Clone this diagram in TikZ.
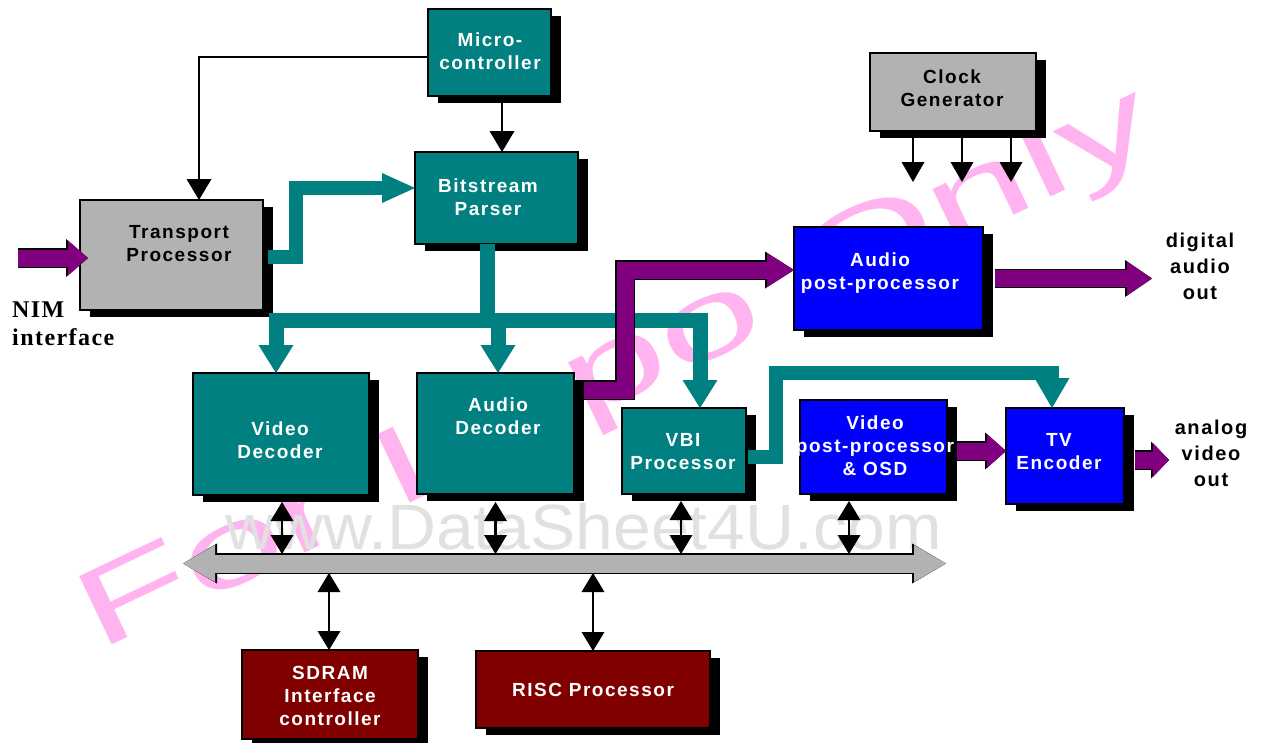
\documentclass[tikz,border=0pt]{standalone}
\usepackage{fontspec}
\setmainfont{Liberation Sans}
\newfontfamily\bxf[LetterSpace=8]{Liberation Sans}
\newfontfamily\nimf[LetterSpace=6]{Liberation Serif}
\usetikzlibrary{arrows.meta,calc}
\definecolor{tealc}{RGB}{0,128,128}
\definecolor{bluec}{RGB}{0,0,255}
\definecolor{grayc}{RGB}{178,178,178}
\definecolor{maroonc}{RGB}{128,0,0}
\definecolor{purplec}{RGB}{128,0,128}
\definecolor{wmpink}{RGB}{255,180,240}
\definecolor{wmgray}{RGB}{225,225,225}
\tikzset{
  box/.style={draw=black, line width=1.2pt, inner sep=0pt, outer sep=0pt},
  wlbl/.style={text=white, font={\bxf\bfseries\fontsize{19}{23}\selectfont}, align=center, inner sep=0pt},
  blbl/.style={wlbl, text=black},
  olbl/.style={text=black, font={\bxf\bfseries\fontsize{20}{26}\selectfont}, align=center, inner sep=0pt},
  nimlbl/.style={text=black, font={\nimf\bfseries\fontsize{24}{28}\selectfont}, align=left, inner sep=0pt},
  thinarr/.style={line width=2.6pt, draw=black, -{Triangle[length=21pt,width=25pt,line width=0pt]}},
  clkarr/.style={line width=2.6pt, draw=black, -{Triangle[length=20pt,width=23pt,line width=0pt]}},
  dblarr/.style={line width=2.6pt, draw=black, {Triangle[length=19pt,width=23pt,line width=0pt]}-{Triangle[length=19pt,width=23pt,line width=0pt]}},
  tarr/.style={line width=15pt, draw=tealc, -{Triangle[length=28pt,width=35pt,line width=0pt]}},
  tarrb/.style={line width=14pt, draw=tealc, -{Triangle[length=33pt,width=30pt,line width=0pt]}},
  tarrc/.style={line width=14pt, draw=tealc, -{Triangle[length=30pt,width=35pt,line width=0pt]}},
}
\newcommand\drawblk[6]{%
  \fill[black] ({#2+10},{#3+7}) rectangle ({#4+10},{#5+7});
  \node[box, fill=#6, minimum width={(#4-#2)*1pt}, minimum height={(#5-#3)*1pt}] (#1) at ({(#2+#4)/2},{(#3+#5)/2}) {};
}
\newcommand\parrow[5]{%
  \draw[line width=19.5pt, draw=black, -{Triangle[length=#3pt,width=#4pt,line width=0pt]}] #5;
  \draw[line width=17pt, draw=purplec, -{Triangle[length=#1pt,width=#2pt,line width=0pt]}] #5;
}
\begin{document}
\begin{tikzpicture}[x=1pt,y=-1pt]
\useasboundingbox (0,0) rectangle (1264,742);
\fill[white] (0,0) rectangle (1264,742);

% watermarks
\node[anchor=base west, rotate=25.5, inner sep=0pt, text=wmpink, font={\fontsize{110}{110}\selectfont}] (wma) at (98,652) {\scalebox{1.69}[1]{For Lopo Only}};
\node[anchor=base west, inner sep=0pt, text=wmgray, font={\fontsize{64}{64}\selectfont}] (wmb) at (225,549) {\scalebox{1.06}[1]{www.DataSheet4U.com}};

% blocks
\drawblk{micro}{428}{9}{551}{96}{tealc}
\drawblk{bsp}{415}{152}{578}{244}{tealc}
\drawblk{tp}{80}{200}{263}{310}{grayc}
\drawblk{vdec}{193}{373}{369}{495}{tealc}
\drawblk{adec}{417}{373}{574}{494}{tealc}
\drawblk{vbi}{622}{408}{746}{494}{tealc}
\drawblk{apost}{794}{227}{983}{330}{bluec}
\drawblk{clk}{870}{53}{1036}{131}{grayc}
\drawblk{vpp}{800}{400}{947}{494}{bluec}
\drawblk{tve}{1006}{408}{1124}{504}{bluec}
\drawblk{sdram}{242}{650}{418}{739}{maroonc}
\drawblk{risc}{476}{651}{710}{728}{maroonc}

% bus
\node[inner sep=0pt, outer sep=0pt, minimum width=763pt, minimum height=19pt] (bus) at (564.5,563.5) {};
\draw[line width=21pt, draw=black, {Triangle[length=34pt,width=40pt,line width=0pt]}-{Triangle[length=34pt,width=40pt,line width=0pt]}] (bus.west) -- (bus.east);
\draw[line width=18pt, draw=grayc, {Triangle[length=32pt,width=37pt,line width=0pt]}-{Triangle[length=32pt,width=37pt,line width=0pt]}] (bus.west) -- (bus.east);

% thin black connectors
\draw[thinarr] ($(micro.west)+(0,4.5)$) -| ($(tp.north)+(27.5,0)$);
\draw[thinarr] ($(micro.south)+(12.5,6)$) -- ($(bsp.north)+(5.5,0)$);
\draw[clkarr] ($(clk.south)+(-40,7)$) -- ++(0,44);
\draw[clkarr] ($(clk.south)+(9,7)$) -- ++(0,44);
\draw[clkarr] ($(clk.south)+(58,7)$) -- ++(0,44);

% bus links
\draw[dblarr] ($(vdec.south)+(1,7)$) -- ($(vdec.south |- bus.north)+(1,0)$);
\draw[dblarr] ($(adec.south)+(0,8)$) -- (adec.south |- bus.north);
\draw[dblarr] ($(vbi.south)+(-3,7)$) -- ($(vbi.south |- bus.north)+(-3,0)$);
\draw[dblarr] ($(vpp.south)+(-24.5,7)$) -- ($(vpp.south |- bus.north)+(-24.5,0)$);
\draw[dblarr] ($(sdram.north |- bus.south)+(-1,0)$) -- ($(sdram.north)+(-1,0)$);
\draw[dblarr] (risc.north |- bus.south) -- (risc.north);

% teal data paths
\draw[tarrb] ($(tp.east)+(5,2)$) -- ++(28,0) |- ($(bsp.west)+(0,-10)$);
\draw[tarr] ($(bsp.south)+(-9.5,0)$) -- ++(0,76) -| ($(vdec.north)+(-5,0)$);
\draw[tarr] ($(bsp.south)+(-9.5,0)$) -- ++(0,76) -| ($(adec.north)+(2.5,0)$);
\draw[tarr] ($(bsp.south)+(-9.5,0)$) -- ++(0,76) -| ($(vbi.north)+(16,0)$);
\draw[tarrc] ($(vbi.east)+(2,6)$) -- ++(28,0) -- ++(0,-84) -| ($(tve.north)+(-13,0)$);

% purple paths
\parrow{20}{35}{22}{38}{($(tp.west)+(-62,3)$) -- ($(tp.west)+(8,3)$)}
\parrow{27}{34}{29}{37}{($(adec.east)+(10,-43.5)$) -- ++(41,0) |- ($(apost.west)+(0,-8.5)$)}
\parrow{25}{34}{27}{37}{($(apost.east)+(12,0)$) -- ($(apost.east)+(169,0)$)}
\parrow{19}{34}{21}{37}{($(vpp.east)+(10,4)$) -- ($(tve.west)+(0,-5)$)}
\parrow{16}{34}{18}{37}{($(tve.east)+(11,4)$) -- ($(tve.east)+(45,4)$)}

% labels
\node[wlbl] (microt) at (490,51) {Micro-\\controller};
\node[wlbl] (bspt) at (488,197) {Bitstream\\Parser};
\node[blbl] (tpt) at (179,243.5) {Transport\\Processor};
\node[wlbl] (vdect) at (280,440) {Video\\Decoder};
\node[wlbl] (adect) at (498,416.5) {Audio\\Decoder};
\node[wlbl] (vbit) at (683,452) {VBI\\Processor};
\node[wlbl] (apostt) at (880,273.5) {Audio\\post-processor};
\node[blbl] (clkt) at (952,88.5) {Clock\\Generator};
\node[wlbl] (vppt) at (875,445.5) {Video\\post-processor\\\&~OSD};
\node[wlbl] (tvet) at (1059,452) {TV\\Encoder};
\node[wlbl] (sdramt) at (330,696) {SDRAM\\Interface\\controller};
\node[wlbl] (risct) at (593,690) {RISC Processor};
\node[olbl] (dao) at (1200,266) {digital\\audio\\out};
\node[olbl] (avo) at (1211,453) {analog\\video\\out};
\node[nimlbl, anchor=west] (nim) at (12,324) {NIM\\interface};
\end{tikzpicture}
\end{document}
